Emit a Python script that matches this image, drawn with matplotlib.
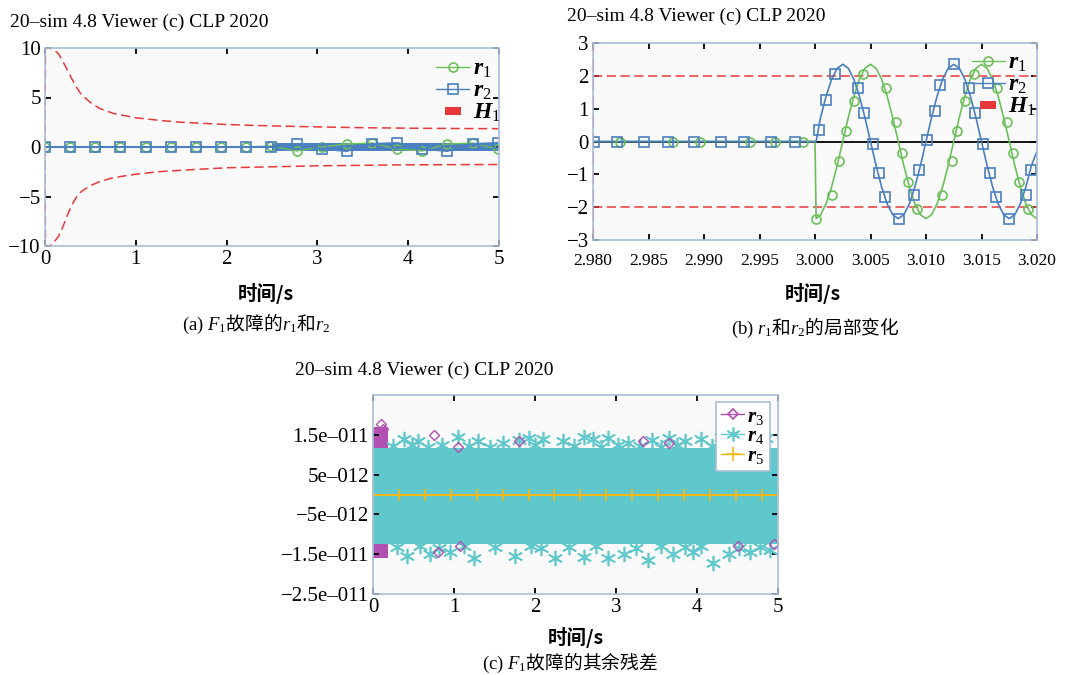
import matplotlib
matplotlib.use("Agg")
import matplotlib.pyplot as plt
import numpy as np

plt.rcParams['font.family'] = ['Liberation Serif', 'Noto Sans CJK SC']
plt.rcParams['mathtext.fontset'] = 'custom'
plt.rcParams['mathtext.rm'] = 'Liberation Serif'
plt.rcParams['mathtext.it'] = 'Liberation Serif:italic'
plt.rcParams['mathtext.bf'] = 'Liberation Serif:italic:bold'

GREEN = '#6cbf5a'
BLUE = '#4a7fc0'
RED = '#e8393a'
PURPLE = '#b050b0'
CYAN = '#5ec8cc'
GOLD = '#f2b818'
SPINE = '#a8bcd8'
TITLE = '20\u2013sim 4.8 Viewer (c) CLP 2020'

# ---------------- panel (a): F1 fault, r1 and r2 ----------------
h1_t = [0, 0.005, 0.05, 0.1, 0.15, 0.2, 0.25, 0.3, 0.35, 0.4, 0.5, 0.6, 0.75,
        1.0, 1.25, 1.5, 2.0, 2.5, 3.0, 3.5, 4.0, 4.5, 5.0]
h1_upper = [0, 10, 10, 9.8, 9.4, 8.6, 7.7, 6.8, 6.0, 5.3, 4.5, 3.9, 3.4,
            2.95, 2.7, 2.5, 2.27, 2.13, 2.03, 1.95, 1.9, 1.87, 1.85]
h1_lower = [0, -10, -10, -9.6, -9.0, -8.0, -6.8, -5.8, -5.0, -4.5, -3.9, -3.5, -3.1,
            -2.75, -2.5, -2.35, -2.1, -2.0, -1.9, -1.85, -1.8, -1.78, -1.77]

a_mark_t = [0, 0.277, 0.554, 0.831, 1.108, 1.385, 1.662, 1.939, 2.216, 2.493,
            2.77, 3.047, 3.324, 3.601, 3.878, 4.155, 4.432, 4.709, 4.986]
a_r1 = [0, 0, 0, 0, 0, 0, 0, 0, 0, 0.1,
        -0.4, 0.0, 0.3, 0.4, -0.2, -0.4, 0.3, 0.4, -0.2]
a_r2 = [0, 0, 0, 0, 0, 0, 0, 0, 0, 0,
        0.3, -0.2, -0.4, 0.3, 0.4, -0.2, -0.4, 0.3, 0.4]
# envelope of the dense oscillation band
a_band_t = [0, 2.5, 2.5, 5.0]
a_band_hi = [0.1, 0.1, 0.38, 0.38]
a_band_lo = [-0.1, -0.1, -0.42, -0.42]

# ---------------- panel (b): local change around 3.0 s ----------------
b_t = [2.980, 3.0000, 3.0001, 3.0005, 3.0010, 3.0015, 3.0020, 3.0025, 3.0030, 3.0035,
       3.0040, 3.0045, 3.0050, 3.0055, 3.0060, 3.0065, 3.0070, 3.0075, 3.0080,
       3.0085, 3.0090, 3.0095, 3.0100, 3.0105, 3.0110, 3.0115, 3.0120, 3.0125,
       3.0130, 3.0135, 3.0140, 3.0145, 3.0150, 3.0155, 3.0160, 3.0165, 3.0170,
       3.0175, 3.0180, 3.0185, 3.0190, 3.0195, 3.0200]
b_r1 = [0, 0, -2.35, -2.23, -1.90, -1.38, -0.73, 0, 0.73, 1.38,
        1.90, 2.23, 2.35, 2.23, 1.90, 1.38, 0.73, 0, -0.73,
        -1.38, -1.90, -2.23, -2.35, -2.23, -1.90, -1.38, -0.73, 0,
        0.73, 1.38, 1.90, 2.23, 2.35, 2.23, 1.90, 1.38, 0.73,
        0, -0.73, -1.38, -1.90, -2.23, -2.35]
b_r2 = [0, 0, 0, 0.73, 1.38, 1.90, 2.23, 2.35, 2.23, 1.90,
        1.38, 0.73, 0, -0.73, -1.38, -1.90, -2.23, -2.35, -2.23,
        -1.90, -1.38, -0.73, 0, 0.73, 1.38, 1.90, 2.23, 2.35,
        2.23, 1.90, 1.38, 0.73, 0, -0.73, -1.38, -1.90, -2.23,
        -2.35, -2.23, -1.90, -1.38, -0.73, -0.3]
b_r1_mark_t = [2.9824, 2.9872, 2.9896, 2.9941, 2.9964, 2.9989,
               3.0001, 3.0015, 3.0022, 3.0028, 3.0035, 3.0043, 3.0064, 3.0073,
               3.0078, 3.0084, 3.0092, 3.0114, 3.0123, 3.0128, 3.0135, 3.0143,
               3.0164, 3.0173, 3.0178, 3.0184, 3.0192]
b_r1_mark = [0, 0, 0, 0, 0, 0,
             -2.37, -1.63, -0.60, 0.32, 1.24, 2.07, 1.64, 0.60,
             -0.34, -1.23, -2.07, -1.63, -0.60, 0.32, 1.24, 2.07,
             1.64, 0.60, -0.34, -1.23, -2.07]
b_r2_mark_t = [2.9801, 2.9822, 2.9846, 2.9868, 2.9891, 2.9915, 2.9936, 2.9960, 2.9982,
               3.0004, 3.0010, 3.0018, 3.0039, 3.0044, 3.0052, 3.0058, 3.0063,
               3.0076, 3.0089, 3.0094, 3.0101, 3.0108, 3.0113, 3.0125, 3.0139,
               3.0144, 3.0151, 3.0158, 3.0163, 3.0175, 3.0190, 3.0195]
b_r2_mark = [0, 0, 0, 0, 0, 0, 0, 0, 0,
             0.36, 1.26, 2.07, 1.64, 0.87, -0.08, -0.95, -1.70,
             -2.37, -1.64, -0.87, 0.04, 0.93, 1.72, 2.37, 1.64,
             0.87, -0.08, -0.95, -1.70, -2.37, -1.64, -0.87]
b_h1 = 2.0

# ---------------- panel (c): remaining residuals ----------------
c_r3_t = [0, 0.18]
c_r3_hi = [1.7e-11, 1.7e-11]
c_r3_lo = [-1.6e-11, -1.6e-11]
c_r4_t = [0, 5]
c_r4_hi = [1.18e-11, 1.18e-11]
c_r4_lo = [-1.25e-11, -1.25e-11]
c_r4_out_t = [0.38, 0.55, 1.05, 1.3, 1.6, 1.8, 1.92, 2.1, 2.35, 2.6, 2.72, 2.9,
              3.15, 3.45, 3.65, 3.85, 4.05, 4.3, 4.55, 4.85,
              0.25, 0.48, 0.68, 0.85, 1.18, 1.45, 2.0, 2.48, 2.82, 3.02, 3.3,
              3.55, 3.75, 4.18, 4.42, 4.7,
              0.42, 0.7, 0.95, 1.25, 1.75, 2.25, 2.6, 2.9, 3.1, 3.4, 3.7,
              3.95, 4.2, 4.4, 4.65, 4.9,
              0.3, 0.58, 0.82, 1.12, 1.5, 1.95, 2.08, 2.42, 2.75, 3.25, 3.55,
              3.85, 4.05, 4.52, 4.78]
c_r4_out = [1.4e-11, 1.35e-11, 1.45e-11, 1.35e-11, 1.3e-11, 1.38e-11, 1.42e-11,
            1.4e-11, 1.35e-11, 1.45e-11, 1.4e-11, 1.42e-11, 1.3e-11, 1.38e-11,
            1.42e-11, 1.35e-11, 1.4e-11, 1.45e-11, 1.38e-11, 1.42e-11,
            1.22e-11, 1.25e-11, 1.2e-11, 1.25e-11, 1.22e-11, 1.2e-11, 1.25e-11,
            1.22e-11, 1.2e-11, 1.25e-11, 1.22e-11, 1.2e-11, 1.25e-11, 1.22e-11,
            1.25e-11, 1.2e-11,
            -1.55e-11, -1.5e-11, -1.45e-11, -1.6e-11, -1.55e-11, -1.6e-11,
            -1.58e-11, -1.6e-11, -1.5e-11, -1.65e-11, -1.5e-11, -1.45e-11,
            -1.72e-11, -1.5e-11, -1.45e-11, -1.4e-11,
            -1.32e-11, -1.3e-11, -1.35e-11, -1.3e-11, -1.33e-11, -1.3e-11,
            -1.35e-11, -1.32e-11, -1.3e-11, -1.35e-11, -1.3e-11, -1.33e-11,
            -1.3e-11, -1.35e-11, -1.32e-11]
c_r3_out_t = [0.1, 0.12, 0.75, 1.05, 1.8, 3.33, 3.65, 0.8, 1.08, 4.5, 4.95]
c_r3_out = [1.78e-11, 1.65e-11, 1.5e-11, 1.2e-11, 1.35e-11, 1.35e-11, 1.3e-11,
            -1.45e-11, -1.3e-11, -1.3e-11, -1.25e-11]
c_r5_t = [0, 0.32, 0.64, 0.96, 1.28, 1.6, 1.92, 2.24, 2.56, 2.88, 3.2,
          3.52, 3.84, 4.16, 4.48, 4.8, 5.0]
c_r5 = [0] * 17
c_yticks = [-2.5e-11, -1.5e-11, -5e-12, 5e-12, 1.5e-11]
c_yticklabels = ['\u22122.5e\u2013011', '\u22121.5e\u2013011', '\u22125e\u2013012',
                 '5e\u2013012', '1.5e\u2013011']

CN = ['Noto Sans CJK SC']
BAR = [(-1, -0.5), (1, -0.5), (1, 0.5), (-1, 0.5), (-1, -0.5)]


def style_axes(ax):
    ax.set_facecolor('#fafafa')
    for s in ax.spines.values():
        s.set_color(SPINE)
        s.set_linewidth(1.2)
    ax.tick_params(direction='in', top=True, right=True, length=4, width=1.3,
                   color='black', labelsize=15, pad=3)


def h1_handle():
    return plt.Line2D([], [], ls='none', marker=BAR, ms=11, color=RED, mew=0)


def sub(name, k):
    return '$\\mathbf{%s}_{\\mathrm{%s}}$' % (name, k)


fig = plt.figure(figsize=(10.75, 6.75), dpi=100)

# panel (a)
axa = fig.add_axes([45 / 1075, 1 - 246 / 675, 454 / 1075, 198 / 675])
style_axes(axa)
axa.plot(h1_t, h1_upper, color=RED, lw=1.1, ls=(0, (6, 3)))
axa.plot(h1_t, h1_lower, color=RED, lw=1.1, ls=(0, (6, 3)))
axa.fill_between(a_band_t, a_band_lo, a_band_hi, color=BLUE, lw=0)
axa.plot(a_mark_t, a_r1, color=GREEN, lw=1, marker='o', ms=6.5, mfc='none', mew=1.2)
axa.plot(a_mark_t, a_r2, color=BLUE, lw=1.5, marker='s', ms=6.5, mfc='none', mew=1.2)
axa.set_xlim(0, 5)
axa.set_ylim(-10, 10)
axa.set_xticks([0, 1, 2, 3, 4, 5])
axa.set_yticks([-10, -5, 0, 5, 10])
axa.set_yticklabels(['\u221210', '\u22125', '0', '5', '10'])
la1 = plt.Line2D([], [], color=GREEN, marker='o', mfc='none', ms=6.5, mew=1.2, lw=1)
la2 = plt.Line2D([], [], color=BLUE, marker='s', mfc='none', ms=6.5, mew=1.2, lw=1)
axa.legend([la1, la2, h1_handle()], [sub('r', 1), sub('r', 2), sub('H', 1)],
           loc='upper right', frameon=False, fontsize=17, handlelength=1.4,
           handletextpad=0.15, labelspacing=0.0, borderaxespad=0.0,
           bbox_to_anchor=(1.025, 0.995))
fig.text(10 / 1075, 1 - 22 / 675, TITLE, fontsize=14, va='center', ha='left')
fig.text(266 / 1075, 1 - 293 / 675, '时间/s', fontsize=14, fontweight='bold',
         family=CN, ha='center', va='center')
fig.text(256 / 1075, 1 - 324 / 675,
         '$\\mathrm{(a)}\\ \\mathit{F}_{\\mathrm{1}}$故障的$\\mathit{r}_{\\mathrm{1}}$和$\\mathit{r}_{\\mathrm{2}}$',
         fontsize=13.5, family=CN, ha='center', va='center')

# panel (b)
axb = fig.add_axes([593 / 1075, 1 - 240 / 675, 444 / 1075, 197 / 675])
style_axes(axb)
axb.axhline(b_h1, color=RED, lw=1.1, ls=(0, (6, 3)))
axb.axhline(-b_h1, color=RED, lw=1.1, ls=(0, (6, 3)))
axb.axvline(b_t[0], color=RED, lw=1.5, ls=(0, (6, 3)))
axb.axhline(0, color='black', lw=1.3)
axb.plot(b_t, b_r1, color=GREEN, lw=1.2)
axb.plot(b_t, b_r2, color=BLUE, lw=1.2)
axb.plot(b_r1_mark_t, b_r1_mark, ls='none', marker='o', ms=6.5, mfc='none', mew=1.2, color=GREEN)
axb.plot(b_r2_mark_t, b_r2_mark, ls='none', marker='s', ms=6.5, mfc='none', mew=1.2, color=BLUE)
axb.set_xlim(2.98, 3.02)
axb.set_ylim(-3, 3)
bx = [2.980, 2.985, 2.990, 2.995, 3.000, 3.005, 3.010, 3.015, 3.020]
axb.set_xticks(bx)
axb.set_xticklabels(['%.3f' % v for v in bx], fontsize=12.5)
axb.tick_params(axis='x', pad=9)
axb.set_yticks([-3, -2, -1, 0, 1, 2, 3])
axb.set_yticklabels(['\u22123', '\u22122', '\u22121', '0', '1', '2', '3'])
lh1 = plt.Line2D([], [], color=GREEN, marker='o', mfc='none', ms=6.5, mew=1.2, lw=1)
lh2 = plt.Line2D([], [], color=BLUE, marker='s', mfc='none', ms=6.5, mew=1.2, lw=1)
axb.legend([lh1, lh2, h1_handle()], [sub('r', 1), sub('r', 2), sub('H', 1)],
           loc='upper right', frameon=False, fontsize=17, handlelength=1.4,
           handletextpad=0.15, labelspacing=0.0, borderaxespad=0.0,
           bbox_to_anchor=(1.02, 1.0))
fig.text(567 / 1075, 1 - 16 / 675, TITLE, fontsize=14, va='center', ha='left')
fig.text(813 / 1075, 1 - 293 / 675, '时间/s', fontsize=14, fontweight='bold',
         family=CN, ha='center', va='center')
fig.text(815 / 1075, 1 - 328 / 675,
         '$\\mathrm{(b)}\\ \\mathit{r}_{\\mathrm{1}}$和$\\mathit{r}_{\\mathrm{2}}$的局部变化',
         fontsize=13.5, family=CN, ha='center', va='center')

# panel (c)
axc = fig.add_axes([373 / 1075, 1 - 594 / 675, 405 / 1075, 199 / 675])
style_axes(axc)
axc.fill_between(c_r3_t, c_r3_lo, c_r3_hi, color=PURPLE, lw=0)
axc.fill_between(c_r4_t, c_r4_lo, c_r4_hi, color=CYAN, lw=0)
axc.plot(c_r4_out_t, c_r4_out, ls='none', marker=(6, 2, 0), ms=11, mew=1.2, color=CYAN)
axc.plot(c_r3_out_t, c_r3_out, ls='none', marker='D', ms=5, mfc='none', mew=1, color=PURPLE)
axc.plot(c_r5_t, c_r5, color=GOLD, lw=1.5, marker='+', ms=9, mew=1.2, markevery=list(range(16)))
axc.set_xlim(0, 5)
axc.set_ylim(-2.5e-11, 2.5e-11)
axc.set_xticks([0, 1, 2, 3, 4, 5])
axc.set_yticks(c_yticks)
axc.set_yticklabels(c_yticklabels)
lc3 = plt.Line2D([], [], color=PURPLE, marker='D', mfc='none', ms=5, mew=1.2, lw=1)
lc4 = plt.Line2D([], [], color=CYAN, marker=(6, 2, 0), ms=10, mew=1.2, lw=1)
lc5 = plt.Line2D([], [], color=GOLD, marker='+', ms=10, mew=1.2, lw=1)
legc = axc.legend([lc3, lc4, lc5], [sub('r', 3), sub('r', 4), sub('r', 5)],
                  loc='upper right', fontsize=15, handlelength=1.1, handletextpad=0.15,
                  labelspacing=0.0, borderpad=0.25, borderaxespad=0.0, fancybox=False,
                  framealpha=1, bbox_to_anchor=(0.98, 0.965))
legc.get_frame().set_edgecolor(SPINE)
legc.get_frame().set_linewidth(1.2)
fig.text(295 / 1075, 1 - 370 / 675, TITLE, fontsize=14, va='center', ha='left')
fig.text(576 / 1075, 1 - 637 / 675, '时间/s', fontsize=14, fontweight='bold',
         family=CN, ha='center', va='center')
fig.text(570 / 1075, 1 - 663 / 675,
         '$\\mathrm{(c)}\\ \\mathit{F}_{\\mathrm{1}}$故障的其余残差',
         fontsize=13.5, family=CN, ha='center', va='center')

fig.savefig('out.png', dpi=100)
